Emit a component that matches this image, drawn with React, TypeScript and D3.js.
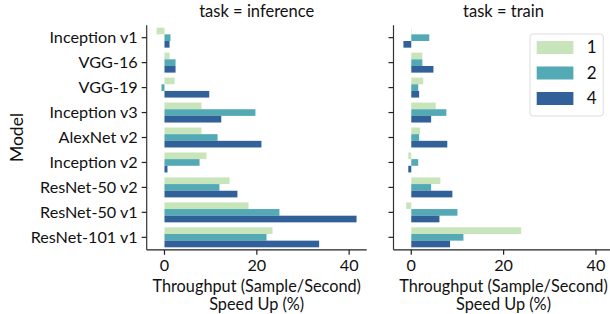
import React from "react";
import * as d3 from "d3";

const models = ["Inception v1", "VGG-16", "VGG-19", "Inception v3", "AlexNet v2", "Inception v2", "ResNet-50 v2", "ResNet-50 v1", "ResNet-101 v1"];
const gpus = ["1", "2", "4"];
const tasks = ["inference", "train"];
const inference1 = [-1.7, 1.1, 2.2, 8.0, 8.0, 9.1, 14.1, 18.2, 23.4];
const inference2 = [1.3, 2.4, -0.65, 19.7, 11.5, 7.6, 11.9, 24.9, 22.1];
const inference4 = [1.1, 2.4, 9.7, 12.3, 21.0, 0.65, 15.8, 41.6, 33.5];
const train1 = [0.1, 2.4, 2.6, 5.3, 1.9, -0.65, 6.3, -1.1, 23.8];
const train2 = [3.9, 2.4, 1.5, 7.6, 1.7, 1.5, 4.3, 10.0, 11.3];
const train4 = [-1.7, 4.8, 1.7, 4.3, 7.8, -0.65, 8.9, 6.1, 8.4];
const xTicks = [0, 20, 40];
const colors = ["#c8e4bb", "#53aab5", "#326098"];

const seriesByTask: Record<string, number[][]> = {
  inference: [inference1, inference2, inference4],
  train: [train1, train2, train4],
};

const FONT = "Lato, 'Open Sans', sans-serif";

export default function App() {
  const W = 610, H = 314;
  const top = 25.2, bottom = 249.8;
  const panels = [
    { task: tasks[0], x0: 146.7, x1: 366.7, labels: true },
    { task: tasks[1], x0: 393.5, x1: 613.5, labels: false },
  ];
  const y = d3.scaleBand<string>().domain(models).range([top, bottom]).paddingInner(0.2).paddingOuter(0.1);
  const yCat = d3.scaleBand<string>().domain(models).range([top, bottom]);
  const sub = d3.scaleBand<string>().domain(gpus).range([0, y.bandwidth()]);

  return (
    <svg width={W} height={H} style={{ position: "absolute", left: 0, top: 0 }} fontFamily={FONT}>
      <text transform={`translate(23,${(top + bottom) / 2}) rotate(-90)`} textAnchor="middle" fontSize={17.5} fill="#111">Model</text>
      {panels.map((p) => {
        const x = d3.scaleLinear().domain([-3.85, 43.8]).range([p.x0, p.x1]);
        const series = seriesByTask[p.task];
        return (
          <g key={p.task}>
            <text x={(p.x0 + p.x1) / 2} y={17} textAnchor="middle" fontSize={16.5} fill="#111">task = {p.task}</text>
            {series.map((vals, si) =>
              vals.map((v, i) => (
                <rect key={`${si}-${i}`}
                  x={Math.min(x(0), x(v))}
                  width={Math.abs(x(v) - x(0))}
                  y={(y(models[i]) as number) + (sub(gpus[si]) as number)}
                  height={sub.bandwidth()}
                  fill={colors[si]} />
              ))
            )}
            <line x1={p.x0} x2={p.x0} y1={top} y2={bottom} stroke="#333" strokeWidth={1.2} />
            <line x1={p.x0} x2={p.x1} y1={bottom} y2={bottom} stroke="#222" strokeWidth={1.2} />
            {models.map((m) => {
              const yy = (yCat(m) as number) + yCat.bandwidth() / 2;
              return (
                <g key={m}>
                  <line x1={p.x0 - 5} x2={p.x0} y1={yy} y2={yy} stroke="#222" strokeWidth={1.2} />
                  {p.labels && (
                    <text x={p.x0 - 9} y={yy} dy="0.35em" textAnchor="end" fontSize={16.2} fill="#111">{m}</text>
                  )}
                </g>
              );
            })}
            {xTicks.map((t) => (
              <g key={t}>
                <line x1={x(t)} x2={x(t)} y1={bottom} y2={bottom + 5} stroke="#222" strokeWidth={1.2} />
                <text x={x(t)} y={bottom + 16} dy="0.35em" textAnchor="middle" fontSize={16.2} fill="#111">{t}</text>
              </g>
            ))}
            <text x={(p.x0 + p.x1) / 2} y={292} textAnchor="middle" fontSize={16.3} fill="#111">Throughput (Sample/Second)</text>
            <text x={(p.x0 + p.x1) / 2} y={310} textAnchor="middle" fontSize={16.3} fill="#111">Speed Up (%)</text>
          </g>
        );
      })}
      <g>
        <rect x={530} y={34} width={73.3} height={82} rx={3} fill="#fff" fillOpacity={0.8} stroke="#ddd" strokeWidth={1} />
        {gpus.map((g, i) => (
          <g key={g}>
            <rect x={536.7} y={41 + i * 25.5} width={36.7} height={13} fill={colors[i]} />
            <text x={591.7} y={41 + i * 25.5 + 6.5} dy="0.35em" textAnchor="middle" fontSize={17} fill="#111">{g}</text>
          </g>
        ))}
      </g>
    </svg>
  );
}
